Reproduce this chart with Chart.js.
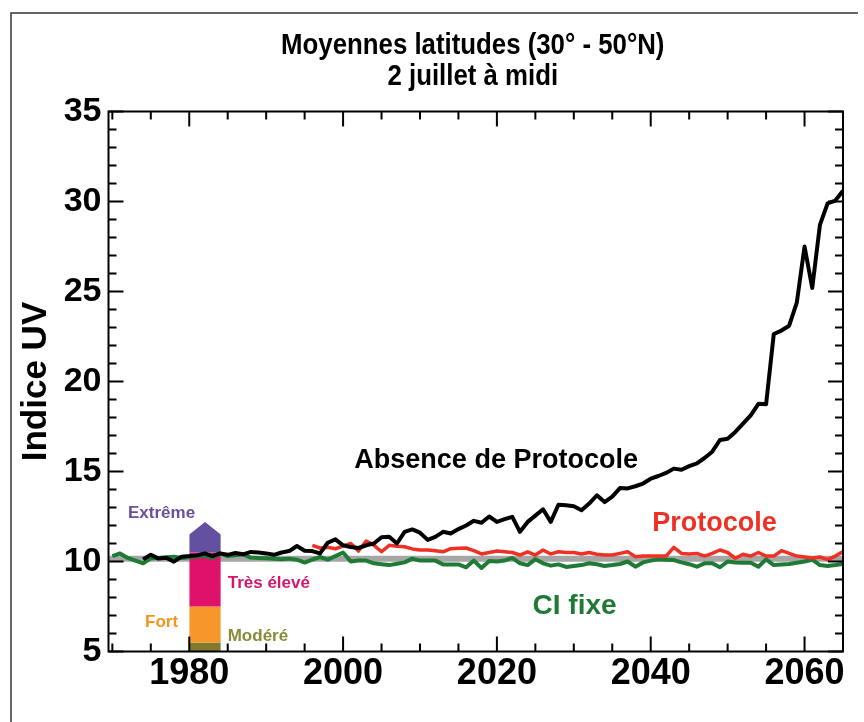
<!DOCTYPE html>
<html>
<head>
<meta charset="utf-8">
<script src="https://cdn.jsdelivr.net/npm/chart.js@4.4.1/dist/chart.umd.min.js"></script>
<style>
  html, body { margin: 0; padding: 0; background: #fff; }
  #uvChart { display: block; }
</style>
</head>
<body>
<canvas id="uvChart" width="864" height="722"></canvas>
<script>
const TITLE_LINES = ['Moyennes latitudes (30° - 50°N)', '2 juillet à midi'];
const Y_TITLE = 'Indice UV';
const X_TICKS = [1980, 2000, 2020, 2040, 2060];
const Y_TICKS = [5, 10, 15, 20, 25, 30, 35];

// Absence de Protocole, one value per year from 1974
const NO_PROTOCOL_START = 1974;
const noProtocol = [
  10.12, 10.38, 10.16, 10.21, 9.99, 10.27, 10.30, 10.34, 10.45, 10.30,
  10.45, 10.37, 10.47, 10.40, 10.53, 10.50, 10.45, 10.37, 10.50, 10.58,
  10.86, 10.60, 10.58, 10.45, 11.04, 11.23, 10.90, 10.80, 10.75, 10.90,
  11.00, 11.35, 11.37, 11.00, 11.65, 11.78, 11.60, 11.20, 11.37, 11.65,
  11.56, 11.80, 12.00, 12.26, 12.15, 12.50, 12.20, 12.35, 12.48, 11.65,
  12.20, 12.55, 12.90, 12.20, 13.15, 13.12, 13.07, 12.85, 13.22, 13.68,
  13.30, 13.60, 14.08, 14.06, 14.18, 14.33, 14.60, 14.75, 14.92, 15.16,
  15.10, 15.30, 15.45, 15.75, 16.10, 16.75, 16.82, 17.20, 17.66, 18.12,
  18.76, 18.73, 22.64, 22.83, 23.10, 24.40, 27.50, 25.20, 28.70, 29.90,
  30.05, 30.60
];

// Protocole, from 1996
const PROTOCOL_START = 1996;
const protocol = [
  10.90, 10.75, 10.79, 10.71, 10.85, 11.00, 10.58, 11.14, 10.91, 10.54,
  10.90, 10.85, 10.82, 10.70, 10.64, 10.64, 10.60, 10.54, 10.71, 10.73,
  10.75, 10.60, 10.42, 10.50, 10.58, 10.54, 10.50, 10.36, 10.54, 10.36,
  10.64, 10.42, 10.54, 10.50, 10.50, 10.42, 10.50, 10.40, 10.36, 10.36,
  10.45, 10.54, 10.27, 10.30, 10.30, 10.30, 10.30, 10.79, 10.45, 10.42,
  10.45, 10.30, 10.45, 10.64, 10.50, 10.18, 10.40, 10.30, 10.50, 10.30,
  10.30, 10.60, 10.45, 10.30, 10.25, 10.20, 10.25, 10.10, 10.30, 10.55
];

// CI fixe, from 1970
const FIXED_START = 1970;
const fixedCl = [
  10.30, 10.45, 10.20, 10.05, 9.90, 10.18, 10.20, 10.23, 10.27, 10.20,
  10.23, 10.28, 10.32, 10.20, 10.45, 10.30, 10.35, 10.40, 10.22, 10.20,
  10.18, 10.15, 10.12, 10.16, 10.10, 9.94, 10.10, 10.25, 10.10, 10.30,
  10.50, 10.00, 10.05, 10.05, 9.90, 9.85, 9.80, 9.88, 9.95, 10.16,
  10.05, 10.05, 10.05, 9.84, 9.84, 9.84, 9.68, 10.05, 9.64, 10.03,
  10.00, 10.05, 10.20, 9.90, 9.80, 10.13, 9.90, 9.77, 9.84, 9.70,
  9.75, 9.80, 9.90, 9.85, 9.75, 9.80, 9.86, 10.00, 9.71, 9.95,
  10.05, 10.12, 10.10, 10.08, 9.95, 9.85, 9.71, 9.90, 9.90, 9.68,
  10.00, 9.95, 9.93, 9.93, 9.71, 10.12, 9.80, 9.83, 9.86, 9.93,
  10.00, 10.10, 9.80, 9.75, 9.80, 9.86
];

// grey reference band
const REF_X = [1969.5, 2065];
const REF_LEVEL = [10.15, 10.15];

// UV index scale bar (left edge, middle, right edge)
const UV_BAR_X = [1980, 1982.05, 1984.1];
const uvBase = [5, 5, 5];
const uvModere = [5.5, 5.5, 5.5];
const uvFort = [7.5, 7.5, 7.5];
const uvTresEleve = [10.5, 10.5, 10.5];
const uvExtreme = [11.5, 12.2, 11.5];

const SANS = "'Liberation Sans', Arial, sans-serif";

// text labels placed in data units
const LABELS = [
  { text: 'Absence de Protocole', x: 2019.9, y: 15.6, color: '#000000', size: 27, align: 'center' },
  { text: 'Protocole', x: 2048.3, y: 12.1, color: '#ee3124', size: 27, align: 'center' },
  { text: 'CI fixe', x: 2030.1, y: 7.5, color: '#1f7a35', size: 28, align: 'center' },
  { text: 'Extrême', x: 1976.4, y: 12.7, color: '#6b4f9e', size: 17, align: 'center' },
  { text: 'Très élevé', x: 1985.0, y: 8.8, color: '#d4176b', size: 17, align: 'left' },
  { text: 'Fort', x: 1976.4, y: 6.6, color: '#f7941d', size: 17, align: 'center' },
  { text: 'Modéré', x: 1985.0, y: 5.85, color: '#8b8a38', size: 17, align: 'left' }
];

function seriesPoints(startYear, values) {
  return values.map((v, i) => ({ x: startYear + i, y: v }));
}

function pairPoints(xs, ys) {
  return xs.map((x, i) => ({ x: x, y: ys[i] }));
}

function lineSet(data, color, width) {
  return {
    data: data,
    borderColor: color,
    borderWidth: width,
    pointRadius: 0,
    tension: 0,
    fill: false,
    borderJoinStyle: 'round'
  };
}

function bandSet(data, color, fill) {
  return {
    data: data,
    borderColor: 'rgba(0,0,0,0)',
    borderWidth: 1,
    backgroundColor: color,
    pointRadius: 0,
    tension: 0,
    fill: fill
  };
}

const pageDecor = {
  id: 'pageDecor',
  beforeDraw(chart) {
    const ctx = chart.ctx;
    const area = chart.chartArea;
    ctx.save();
    ctx.fillStyle = '#fff';
    ctx.fillRect(0, 0, chart.width, chart.height);
    ctx.strokeStyle = '#333';
    ctx.lineWidth = 1.5;
    ctx.beginPath();
    ctx.moveTo(11, chart.height);
    ctx.lineTo(11, 13);
    ctx.lineTo(858, 13);
    ctx.stroke();
    // condensed title: squeeze a bold sans horizontally
    ctx.fillStyle = '#000';
    ctx.textAlign = 'center';
    ctx.textBaseline = 'middle';
    ctx.font = 'bold 30px ' + SANS;
    const cx = (area.left + area.right) / 2;
    ctx.translate(cx - 3, 0);
    ctx.scale(0.86, 1);
    ctx.fillText(TITLE_LINES[0], 0, 46);
    ctx.fillText(TITLE_LINES[1], 0, 77);
    ctx.restore();
  },
  afterDatasetsDraw(chart) {
    const ctx = chart.ctx;
    const { x, y } = chart.scales;
    ctx.save();
    ctx.textBaseline = 'middle';
    LABELS.forEach(l => {
      ctx.font = 'bold ' + l.size + 'px ' + SANS;
      ctx.fillStyle = l.color;
      ctx.textAlign = l.align;
      ctx.fillText(l.text, x.getPixelForValue(l.x), y.getPixelForValue(l.y));
    });
    ctx.restore();
  },
  afterDraw(chart) {
    const ctx = chart.ctx;
    const a = chart.chartArea;
    const { x, y } = chart.scales;
    ctx.save();
    ctx.strokeStyle = '#000';
    ctx.lineWidth = 2;
    ctx.strokeRect(a.left, a.top, a.right - a.left, a.bottom - a.top);
    ctx.beginPath();
    // inward ticks: x every 5 years, longer on labelled years
    for (let v = 1970; v <= 2065; v += 5) {
      const px = x.getPixelForValue(v);
      const len = X_TICKS.includes(v) ? 15 : 8;
      ctx.moveTo(px, a.bottom); ctx.lineTo(px, a.bottom - len);
      ctx.moveTo(px, a.top); ctx.lineTo(px, a.top + len);
    }
    // y every unit, longer every 5
    for (let v = 5; v <= 35; v++) {
      const py = y.getPixelForValue(v);
      const len = Y_TICKS.includes(v) ? 15 : 8;
      ctx.moveTo(a.left, py); ctx.lineTo(a.left + len, py);
      ctx.moveTo(a.right, py); ctx.lineTo(a.right - len, py);
    }
    ctx.stroke();
    ctx.restore();
  }
};

const ctx = document.getElementById('uvChart').getContext('2d');

new Chart(ctx, {
  type: 'line',
  data: {
    datasets: [
      lineSet(seriesPoints(NO_PROTOCOL_START, noProtocol), '#000000', 4),
      lineSet(seriesPoints(PROTOCOL_START, protocol), '#ee3124', 3.5),
      lineSet(seriesPoints(FIXED_START, fixedCl), '#1f7a35', 4),
      bandSet(pairPoints(UV_BAR_X, uvExtreme), '#6450a0', '+1'),
      bandSet(pairPoints(UV_BAR_X, uvTresEleve), '#df116b', '+1'),
      bandSet(pairPoints(UV_BAR_X, uvFort), '#f7962b', '+1'),
      bandSet(pairPoints(UV_BAR_X, uvModere), '#827a2a', '+1'),
      bandSet(pairPoints(UV_BAR_X, uvBase), 'rgba(0,0,0,0)', false),
      lineSet(pairPoints(REF_X, REF_LEVEL), '#a6a6a6', 6)
    ]
  },
  options: {
    responsive: false,
    animation: false,
    devicePixelRatio: 1,
    layout: {
      padding: { top: 111.5, right: 21, bottom: 0, left: 0 }
    },
    plugins: {
      legend: { display: false },
      tooltip: { enabled: false }
    },
    scales: {
      x: {
        type: 'linear',
        position: 'bottom',
        min: 1969.5,
        max: 2065,
        grid: { display: false, drawTicks: false },
        border: { display: false },
        ticks: {
          color: '#000',
          padding: 5,
          maxRotation: 0,
          autoSkip: false,
          font: { family: SANS, size: 36, weight: 'bold', lineHeight: 1 },
          callback: v => String(v)
        },
        afterBuildTicks: s => { s.ticks = X_TICKS.map(v => ({ value: v })); },
        afterFit: s => { s.height = 70.5; }
      },
      y: {
        type: 'linear',
        position: 'left',
        min: 5,
        max: 35,
        grid: { display: false, drawTicks: false },
        border: { display: false },
        ticks: {
          color: '#000',
          padding: 7,
          autoSkip: false,
          font: { family: SANS, size: 34, weight: 'bold', lineHeight: 1 },
          callback: v => String(v)
        },
        title: {
          display: true,
          text: Y_TITLE,
          color: '#000',
          font: { family: SANS, size: 35, weight: 'bold', lineHeight: 1.2 },
          padding: { top: 15, bottom: 0 }
        },
        afterBuildTicks: s => { s.ticks = Y_TICKS.map(v => ({ value: v })); },
        afterFit: s => { s.width = 108.5; }
      }
    }
  },
  plugins: [pageDecor]
});
</script>
</body>
</html>
